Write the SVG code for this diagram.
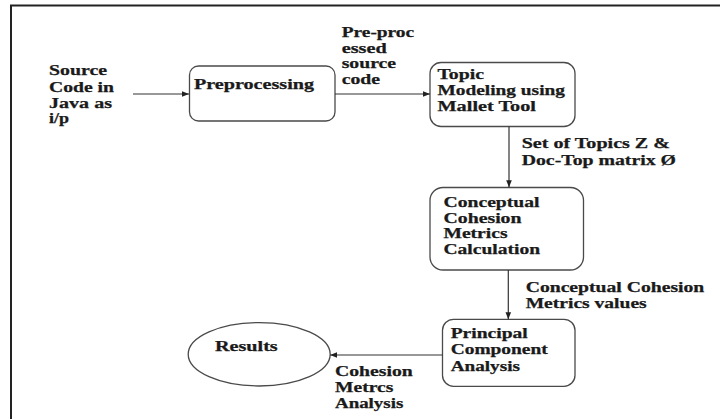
<svg xmlns="http://www.w3.org/2000/svg" width="720" height="419" viewBox="0 0 720 419">
<style>
text{font-family:"Liberation Serif","Times New Roman",serif;font-weight:bold;font-size:14px;fill:#1a1a1a;stroke:#1a1a1a;stroke-width:0.25}
.box{fill:#fff;stroke:#4a4a4a;stroke-width:1.3}
.conn{fill:none;stroke:#333;stroke-width:1.2}
</style>
<defs>
<marker id="ah" markerUnits="userSpaceOnUse" markerWidth="8" markerHeight="8" refX="7" refY="4" orient="auto">
<path d="M0,1.2 L7,4 L0,6.8 Z" fill="#222"/>
</marker>
</defs>
<rect width="720" height="419" fill="#fff"/>
<path d="M11,419 V5.5 H720" fill="none" stroke="#222" stroke-width="2"/>

<g id="input">
<text x="49" y="75" textLength="58" lengthAdjust="spacingAndGlyphs">Source</text>
<text x="49" y="91.5" textLength="65" lengthAdjust="spacingAndGlyphs">Code in</text>
<text x="49" y="107.5" textLength="63" lengthAdjust="spacingAndGlyphs">Java as</text>
<text x="49" y="123" textLength="20" lengthAdjust="spacingAndGlyphs">i/p</text>
</g>

<g id="preprocessing">
<rect class="box" x="189.5" y="66" width="145.5" height="55" rx="9"/>
<text x="194" y="89" textLength="120" lengthAdjust="spacingAndGlyphs">Preprocessing</text>
</g>

<g id="topic">
<rect class="box" x="430" y="62.5" width="145" height="64" rx="11"/>
<text x="437.5" y="78.5" textLength="46.5" lengthAdjust="spacingAndGlyphs">Topic</text>
<text x="437.5" y="95" textLength="127.5" lengthAdjust="spacingAndGlyphs">Modeling using</text>
<text x="437.5" y="110.7" textLength="98.5" lengthAdjust="spacingAndGlyphs">Mallet Tool</text>
</g>

<g id="conceptual">
<rect class="box" x="430" y="187.5" width="153.5" height="82.5" rx="13"/>
<text x="443.5" y="206.7" textLength="96" lengthAdjust="spacingAndGlyphs">Conceptual</text>
<text x="443.5" y="222.7" textLength="78" lengthAdjust="spacingAndGlyphs">Cohesion</text>
<text x="443.5" y="238.3" textLength="64" lengthAdjust="spacingAndGlyphs">Metrics</text>
<text x="443.5" y="254" textLength="96.5" lengthAdjust="spacingAndGlyphs">Calculation</text>
</g>

<g id="pca">
<rect class="box" x="442.5" y="319.3" width="132.5" height="67" rx="11"/>
<text x="450.7" y="337.7" textLength="77" lengthAdjust="spacingAndGlyphs">Principal</text>
<text x="450.7" y="354.3" textLength="97" lengthAdjust="spacingAndGlyphs">Component</text>
<text x="450.7" y="370.7" textLength="69.3" lengthAdjust="spacingAndGlyphs">Analysis</text>
</g>

<g id="results">
<ellipse class="box" cx="259.2" cy="354.3" rx="71" ry="31.7"/>
<text x="215" y="350.7" textLength="62.7" lengthAdjust="spacingAndGlyphs">Results</text>
</g>

<g id="connectors">
<line class="conn" x1="133" y1="94" x2="189" y2="94" marker-end="url(#ah)"/>
<line class="conn" x1="335" y1="94" x2="430" y2="94" marker-end="url(#ah)"/>
<line class="conn" x1="509" y1="126.5" x2="509" y2="187.3" marker-end="url(#ah)"/>
<line class="conn" x1="508.3" y1="270" x2="508.3" y2="319.2" marker-end="url(#ah)"/>
<line class="conn" x1="442.5" y1="355" x2="330.2" y2="355" marker-end="url(#ah)"/>
<g id="labels">
<text x="341.7" y="36.7" textLength="72.5" lengthAdjust="spacingAndGlyphs">Pre-proc</text>
<text x="341.7" y="52.5" textLength="45" lengthAdjust="spacingAndGlyphs">essed</text>
<text x="341.7" y="68.3" textLength="54.3" lengthAdjust="spacingAndGlyphs">source</text>
<text x="341.7" y="84" textLength="38.3" lengthAdjust="spacingAndGlyphs">code</text>
<text x="521.7" y="148.3" textLength="148.3" lengthAdjust="spacingAndGlyphs">Set of Topics Z &amp;</text>
<text x="521.7" y="165" textLength="154.3" lengthAdjust="spacingAndGlyphs">Doc-Top matrix Ø</text>
<text x="525.7" y="291.7" textLength="178.6" lengthAdjust="spacingAndGlyphs">Conceptual Cohesion</text>
<text x="525.7" y="307.7" textLength="121" lengthAdjust="spacingAndGlyphs">Metrics values</text>
<text x="335" y="375.7" textLength="77.7" lengthAdjust="spacingAndGlyphs">Cohesion</text>
<text x="335" y="391.7" textLength="58.3" lengthAdjust="spacingAndGlyphs">Metrcs</text>
<text x="335" y="408.3" textLength="68.3" lengthAdjust="spacingAndGlyphs">Analysis</text>
</g>
</g>
</svg>
